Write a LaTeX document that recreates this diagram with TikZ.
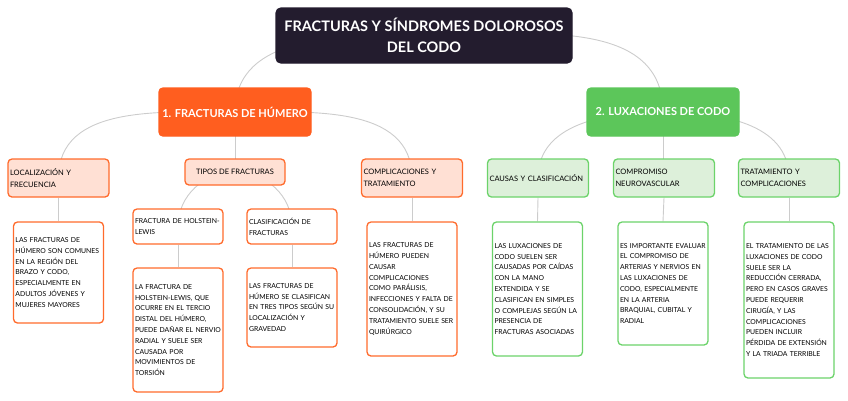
\documentclass[tikz,border=0pt]{standalone}
\usepackage{fontspec}
\setmainfont{Lato}
\usetikzlibrary{backgrounds}
\definecolor{rootc}{HTML}{231C2E}
\definecolor{orc}{HTML}{FF5E1F}
\definecolor{orb}{HTML}{FF6B2C}
\definecolor{orl}{HTML}{FFE0D4}
\definecolor{grc}{HTML}{5CC65A}
\definecolor{grb}{HTML}{6CD36A}
\definecolor{grl}{HTML}{DDF0DA}
\definecolor{linec}{HTML}{CCCCCC}
\newcommand{\nohy}{\hyphenpenalty=10000\exhyphenpenalty=10000}
\begin{document}
\begin{tikzpicture}[x=1pt,y=1pt,
  box/.style={rectangle, rounded corners=4pt, line width=1.3pt, inner ysep=0pt, inner xsep=2pt},
  rootbox/.style={box, rounded corners=5pt, fill=rootc, draw=rootc, text=white, align=center,
     minimum width=296pt, minimum height=55pt, font=\bfseries\fontsize{14.5}{21}\selectfont},
  mainbox/.style={box, text=white, minimum width=152pt, minimum height=48pt,
     font=\bfseries\fontsize{11}{14}\selectfont},
  mo/.style={mainbox, fill=orc, draw=orc},
  mg/.style={mainbox, fill=grc, draw=grc},
  lvtwo/.style={box, align=left, text width=97pt, minimum height=38pt, font=\fontsize{7.5}{12.5}\selectfont\nohy},
  lo/.style={lvtwo, fill=orl, draw=orb},
  lg/.style={lvtwo, fill=grl, draw=grb},
  lvthree/.style={box, fill=white, align=left, text width=86pt, font=\fontsize{6.85}{10.8}\selectfont\nohy},
  to/.style={lvthree, draw=orb},
  tg/.style={lvthree, draw=grb},
  conn/.style={draw=linec, line width=0.9pt}
]
\useasboundingbox (0,0) rectangle (848,-400);

\node[rootbox] (root) at (424,-35.5) {FRACTURAS Y SÍNDROMES DOLOROSOS\\DEL CODO};
\node[mo] (mo) at (235,-112) {1. FRACTURAS DE HÚMERO};
\node[mg] (mg) at (663,-112) {2. LUXACIONES DE CODO};

\node[lo] (loc) at (58.5,-178) {LOCALIZACIÓN Y\\FRECUENCIA};
\node[box, fill=orl, draw=orb, minimum width=100pt, minimum height=26pt, font=\fontsize{7.5}{12.5}\selectfont] (tip) at (235,-172) {TIPOS DE FRACTURAS};
\node[lo] (com) at (412,-178) {COMPLICACIONES Y\\TRATAMIENTO};
\node[lg] (cau) at (538,-178) {CAUSAS Y CLASIFICACIÓN};
\node[lg] (cmp) at (664,-178) {COMPROMISO\\NEUROVASCULAR};
\node[lg] (tra) at (789,-178) {TRATAMIENTO Y\\COMPLICACIONES};

\node[to, minimum height=101pt] (locd) at (58.5,-272.5) {LAS FRACTURAS DE\\HÚMERO SON COMUNES\\EN LA REGIÓN DEL\\BRAZO Y CODO,\\ESPECIALMENTE EN\\ADULTOS JÓVENES Y\\MUJERES MAYORES};
\node[to, minimum height=35pt] (hol) at (178,-226.5) {FRACTURA DE HOLSTEIN-\\LEWIS};
\node[to, minimum height=124pt] (hold) at (178,-330) {LA FRACTURA DE\\HOLSTEIN-LEWIS, QUE\\OCURRE EN EL TERCIO\\DISTAL DEL HÚMERO,\\PUEDE DAÑAR EL NERVIO\\RADIAL Y SUELE SER\\CAUSADA POR\\MOVIMIENTOS DE\\TORSIÓN};
\node[to, minimum height=35pt] (cla) at (292,-226.5) {CLASIFICACIÓN DE\\FRACTURAS};
\node[to, minimum height=79pt] (clad) at (292,-307.5) {LAS FRACTURAS DE\\HÚMERO SE CLASIFICAN\\EN TRES TIPOS SEGÚN SU\\LOCALIZACIÓN Y\\GRAVEDAD};
\node[to, minimum height=134pt] (comd) at (412,-289) {LAS FRACTURAS DE\\HÚMERO PUEDEN\\CAUSAR\\COMPLICACIONES\\COMO PARÁLISIS,\\INFECCIONES Y FALTA DE\\CONSOLIDACIÓN, Y SU\\TRATAMIENTO SUELE SER\\QUIRÚRGICO};
\node[tg, minimum height=134pt] (caud) at (537.5,-289) {LAS LUXACIONES DE\\CODO SUELEN SER\\CAUSADAS POR CAÍDAS\\CON LA MANO\\EXTENDIDA Y SE\\CLASIFICAN EN SIMPLES\\O COMPLEJAS SEGÚN LA\\PRESENCIA DE\\FRACTURAS ASOCIADAS};
\node[tg, minimum height=123pt] (cmpd) at (663,-283.5) {ES IMPORTANTE EVALUAR\\EL COMPROMISO DE\\ARTERIAS Y NERVIOS EN\\LAS LUXACIONES DE\\CODO, ESPECIALMENTE\\EN LA ARTERIA\\BRAQUIAL, CUBITAL Y\\RADIAL};
\node[tg, minimum height=156pt] (trad) at (789,-300) {EL TRATAMIENTO DE LAS\\LUXACIONES DE CODO\\SUELE SER LA\\REDUCCIÓN CERRADA,\\PERO EN CASOS GRAVES\\PUEDE REQUERIR\\CIRUGÍA, Y LAS\\COMPLICACIONES\\PUEDEN INCLUIR\\PÉRDIDA DE EXTENSIÓN\\Y LA TRIADA TERRIBLE};

\begin{scope}[on background layer]
\draw[conn] (root.center) to[out=180,in=90] (mo.center);
\draw[conn] (root.center) to[out=0,in=90] (mg.center);
\draw[conn] (mo.center) to[out=180,in=90] (loc.center);
\draw[conn] (mo.center) -- (tip.center);
\draw[conn] (mo.center) to[out=0,in=90] (com.center);
\draw[conn] (mg.center) to[out=180,in=90] (cau.center);
\draw[conn] (mg.center) -- (mg.center |- cmp.center);
\draw[conn] (mg.center) to[out=0,in=90] (tra.center);
\draw[conn] (tip.center) to[out=180,in=90] (hol.center);
\draw[conn] (tip.center) to[out=0,in=90] (cla.center);
\draw[conn] (loc.south) -- (locd.north);
\draw[conn] (hol.south) -- (hold.north);
\draw[conn] (cla.south) -- (clad.north);
\draw[conn] (com.south) -- (comd.north);
\draw[conn] (cau.south) -- (caud.north);
\draw[conn] (cmp.south) -- (cmpd.north);
\draw[conn] (tra.south) -- (trad.north);
\end{scope}
\end{tikzpicture}
\end{document}
